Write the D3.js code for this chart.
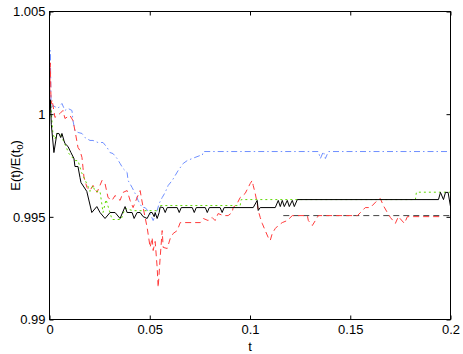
<!DOCTYPE html>
<html><head><meta charset="utf-8">
<script src="https://cdn.jsdelivr.net/npm/d3@7"></script>
<style>body{margin:0;background:#fff}svg{display:block}text{font-family:"Liberation Sans",Arial,sans-serif}</style>
</head><body><svg id="c" width="463" height="354"></svg>
<script>
const xTicks = [0, 0.05, 0.1, 0.15, 0.2];
const xTickLabels = ["0", "0.05", "0.1", "0.15", "0.2"];
const yTicks = [0.99, 0.995, 1, 1.005];
const yTickLabels = ["0.99", "0.995", "1", "1.005"];

const blackSolid = [[0,0.99994],[0.0004,1.0007],[0.0009,0.9995],[0.0022,0.99813],[0.0037,0.99906],[0.0047,0.99906],[0.0056,0.99886],[0.0062,0.99906],[0.0072,0.99872],[0.0077,0.99857],[0.0092,0.99843],[0.0107,0.99813],[0.0122,0.99784],[0.0127,0.99745],[0.0142,0.99745],[0.0152,0.99692],[0.0157,0.99667],[0.0186,0.99624],[0.0211,0.99521],[0.0236,0.9955],[0.0252,0.99521],[0.0277,0.99492],[0.0302,0.99521],[0.0327,0.99521],[0.0352,0.99492],[0.0377,0.9955],[0.0387,0.99521],[0.0412,0.99521],[0.0422,0.99492],[0.0437,0.99521],[0.0452,0.99521],[0.0467,0.99501],[0.0487,0.99492],[0.0502,0.99521],[0.0512,0.99521],[0.0522,0.99501],[0.0527,0.99521],[0.0537,0.99492],[0.0547,0.99521],[0.0552,0.99548],[0.0567,0.99545],[0.0577,0.99521],[0.0587,0.99545],[0.0637,0.99545],[0.0647,0.99521],[0.0657,0.99545],[0.0712,0.99545],[0.0722,0.99521],[0.0732,0.99545],[0.0777,0.99545],[0.0787,0.99521],[0.0797,0.99545],[0.0851,0.99545],[0.0861,0.99521],[0.0871,0.99545],[0.1016,0.99545],[0.1036,0.9958],[0.1041,0.99531],[0.1051,0.99545],[0.1126,0.99545],[0.1141,0.9958],[0.1151,0.9955],[0.1161,0.9958],[0.1171,0.9955],[0.1186,0.9958],[0.1196,0.9955],[0.1211,0.9958],[0.1221,0.9955],[0.1236,0.99584],[0.194,0.99584],[0.195,0.99619],[0.1965,0.99584],[0.1975,0.99619],[0.1988,0.99619],[0.2,0.9955]];

const greenDotted = [[0,1.0],[0.0005,1.0007],[0.001,0.99994],[0.0017,0.99906],[0.0027,0.99877],[0.0036,0.99906],[0.0056,0.99901],[0.0097,0.99808],[0.0127,0.99774],[0.0142,0.99774],[0.016,0.99716],[0.019,0.99653],[0.0202,0.99624],[0.0217,0.99653],[0.0227,0.99624],[0.0252,0.99624],[0.0267,0.99521],[0.0282,0.99584],[0.0312,0.99487],[0.0357,0.99487],[0.0377,0.99541],[0.0417,0.9953],[0.0547,0.9953],[0.0552,0.99555],[0.0951,0.99555],[0.0956,0.99584],[0.1825,0.99584],[0.183,0.9962],[0.2,0.9962]];

const redDashed = [[0,1.0],[0.0004,1.0025],[0.0008,1.0005],[0.0013,1.0007],[0.0027,0.99984],[0.0052,1.00003],[0.0067,1.00018],[0.0077,0.99979],[0.0102,0.99994],[0.0117,0.99969],[0.0127,0.9992],[0.0142,0.99838],[0.0152,0.99823],[0.0162,0.99789],[0.0167,0.9974],[0.0172,0.99692],[0.0187,0.99643],[0.0202,0.99628],[0.0217,0.99653],[0.0237,0.99619],[0.0262,0.99677],[0.0277,0.99662],[0.0292,0.99594],[0.0312,0.9958],[0.0327,0.99604],[0.0352,0.9958],[0.0367,0.99619],[0.0387,0.99628],[0.0402,0.9958],[0.0417,0.99545],[0.0437,0.99594],[0.0452,0.99628],[0.0467,0.99545],[0.0487,0.99448],[0.0502,0.99351],[0.0512,0.99399],[0.0517,0.99336],[0.0527,0.9938],[0.0537,0.99253],[0.0542,0.99156],[0.0552,0.99302],[0.0562,0.99433],[0.0567,0.99351],[0.0587,0.99346],[0.0602,0.99394],[0.0617,0.99419],[0.0637,0.99433],[0.0652,0.99472],[0.0752,0.99472],[0.0767,0.99492],[0.0791,0.99482],[0.0811,0.99497],[0.0826,0.99482],[0.0841,0.99516],[0.0866,0.99506],[0.0891,0.99506],[0.0911,0.99521],[0.0916,0.99545],[0.0936,0.99565],[0.0951,0.99594],[0.0976,0.99614],[0.0991,0.99643],[0.1001,0.99662],[0.1011,0.99677],[0.1016,0.99653],[0.1026,0.99614],[0.1036,0.99565],[0.1041,0.99531],[0.1051,0.99497],[0.1061,0.99468],[0.1076,0.99433],[0.1091,0.99399],[0.1101,0.99385],[0.1111,0.99419],[0.1126,0.99443],[0.1141,0.99458],[0.1161,0.99472],[0.1186,0.99482],[0.1211,0.99506],[0.1286,0.99506],[0.1291,0.99482],[0.1311,0.99458],[0.1326,0.99482],[0.1341,0.99506],[0.1536,0.99506],[0.1575,0.99545],[0.16,0.99545],[0.1635,0.9958],[0.165,0.99589],[0.1665,0.99555],[0.1685,0.99521],[0.17,0.99497],[0.1725,0.99468],[0.174,0.99501],[0.177,0.99468],[0.1785,0.99501],[0.195,0.99501]];

const grayDashed = [[0.1166,0.99506],[0.2,0.99506]];

const blueDashDot = [[0,1.0],[0.0004,1.0031],[0.0008,1.0003],[0.0017,1.00042],[0.0042,1.00028],[0.0062,1.00052],[0.0077,1.00018],[0.0092,1.00028],[0.0112,1.00018],[0.0117,0.99969],[0.0127,0.9992],[0.0142,0.99911],[0.0162,0.99906],[0.0177,0.99886],[0.0202,0.99872],[0.0217,0.99872],[0.0242,0.99862],[0.0267,0.99862],[0.0287,0.99838],[0.0302,0.99813],[0.0317,0.99808],[0.0337,0.99784],[0.0352,0.9976],[0.0367,0.99735],[0.0387,0.99716],[0.0392,0.99677],[0.0412,0.99643],[0.0427,0.99614],[0.0442,0.9958],[0.0462,0.99545],[0.0477,0.99545],[0.0502,0.99516],[0.0517,0.99482],[0.0527,0.99506],[0.0537,0.99531],[0.0547,0.99565],[0.0562,0.99594],[0.0577,0.99619],[0.0592,0.99653],[0.0612,0.99677],[0.0642,0.99726],[0.0667,0.9976],[0.0687,0.99774],[0.0712,0.99784],[0.0752,0.99799],[0.0762,0.99799],[0.0767,0.99818],[0.1341,0.99818],[0.1351,0.99784],[0.1366,0.99818],[0.1376,0.99784],[0.1391,0.99818],[0.2,0.99818]];

const m = {left: 49.5, right: 450.5, top: 11.5, bottom: 319.5};
const x = d3.scaleLinear().domain([0, 0.2]).range([m.left, m.right]);
const y = d3.scaleLinear().domain([0.99, 1.005]).range([m.bottom, m.top]);
const svg = d3.select("#c");

svg.append("defs").append("clipPath").attr("id","clip").append("rect")
  .attr("x", m.left).attr("y", m.top).attr("width", m.right - m.left).attr("height", m.bottom - m.top);

const line = d3.line().x(d => x(d[0])).y(d => y(d[1]));
const g = svg.append("g").attr("clip-path","url(#clip)");
const series = [
  {d: grayDashed, c: "#444", dash: "6,4"},
  {d: blueDashDot, c: "#6f8fff", dash: "6,3,1.5,3"},
  {d: redDashed, c: "#ff3b3b", dash: "6,4"},
  {d: greenDotted, c: "#5fd800", dash: "2,3"},
  {d: blackSolid, c: "#000", dash: null}
];
series.forEach(s => {
  g.append("path").datum(s.d).attr("d", line).attr("fill","none")
   .attr("stroke", s.c).attr("stroke-width", 1).attr("stroke-dasharray", s.dash);
});

svg.append("rect").attr("x", m.left).attr("y", m.top).attr("width", m.right-m.left).attr("height", m.bottom-m.top)
  .attr("fill","none").attr("stroke","#000").attr("stroke-width",1);

const tl = 4;
const xb = svg.append("g").attr("transform", `translate(0,${m.bottom})`)
  .call(d3.axisBottom(x).tickValues(xTicks).tickSize(-tl).tickPadding(5).tickFormat((d,i) => xTickLabels[i]));
const xt = svg.append("g").attr("transform", `translate(0,${m.top})`)
  .call(d3.axisTop(x).tickValues(xTicks).tickSize(-tl).tickFormat(""));
const yl = svg.append("g").attr("transform", `translate(${m.left},0)`)
  .call(d3.axisLeft(y).tickValues(yTicks).tickSize(-tl).tickPadding(4).tickFormat((d,i) => yTickLabels[i]));
const yr = svg.append("g").attr("transform", `translate(${m.right},0)`)
  .call(d3.axisRight(y).tickValues(yTicks).tickSize(-tl).tickFormat(""));
[xb, xt, yl, yr].forEach(a => {
  a.select(".domain").remove();
  a.selectAll("line").attr("stroke","#000");
  a.selectAll("text").attr("fill","#000").attr("font-size", 13).attr("font-family", '"Liberation Sans",Arial,sans-serif');
});

svg.append("text").attr("x", (m.left+m.right)/2).attr("y", 351).attr("text-anchor","middle")
  .attr("font-size", 13).text("t");

const yt = svg.append("text").attr("transform", `translate(20,${(m.top+m.bottom)/2}) rotate(-90)`)
  .attr("text-anchor","middle").attr("font-size", 13);
yt.append("tspan").text("E(t)/E(t");
yt.append("tspan").attr("font-size", 9).attr("dy", 3).text("0");
yt.append("tspan").attr("dy", -3).text(")");
</script></body></html>
